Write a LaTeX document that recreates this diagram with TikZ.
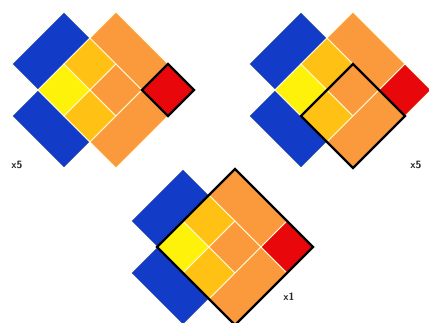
\documentclass[tikz,border=0pt]{standalone}
\usepackage{tikz}
\usetikzlibrary{positioning}
\definecolor{tileblue}{RGB}{18,60,200}
\definecolor{tileyellow}{RGB}{255,242,10}
\definecolor{tilegold}{RGB}{255,194,20}
\definecolor{tileorange}{RGB}{250,154,60}
\definecolor{tilered}{RGB}{232,8,12}
\definecolor{tileline}{RGB}{255,250,215}

\begin{document}
\begin{tikzpicture}[
    x=0.03cm, y=-0.03cm,
    font=\sffamily\bfseries\fontsize{9}{10}\selectfont,
    cell/.style={draw=tileline, line width=0.8pt},
    frame/.style={draw=black, line width=1.9pt, line join=miter},
    count/.style={inner sep=0pt, text=black!85}
]
    \useasboundingbox (0,0) rectangle (429,322);
    \clip (0,0) rectangle (429,322);

    % Three copies of the tiling, each with its frame (a1/b1/a2/b2)
    \foreach \ox/\oy/\fa/\fb/\fc/\fd in {38/90/2/2/3/3, 275/90/0/1/2/3, 157/247/0/0/3/3} {
        \begin{scope}[shift={(\ox,\oy)}, x={(0.78cm,0.78cm)}, y={(0.78cm,-0.78cm)}]
            % blue bars
            \fill[tileblue, cell] (0,-1) -- (2,-1) -- (2,0) -- (0,0) -- cycle;
            \fill[tileblue, cell] (-1,0) -- (0,0) -- (0,2) -- (-1,2) -- cycle;
            % small squares
            \fill[tileyellow, cell] (0,0) -- (1,0) -- (1,1) -- (0,1) -- cycle;
            \fill[tilegold, cell] (1,0) -- (2,0) -- (2,1) -- (1,1) -- cycle;
            \fill[tilegold, cell] (0,1) -- (1,1) -- (1,2) -- (0,2) -- cycle;
            \fill[tileorange, cell] (1,1) -- (2,1) -- (2,2) -- (1,2) -- cycle;
            % orange bars
            \fill[tileorange, cell] (2,0) -- (3,0) -- (3,2) -- (2,2) -- cycle;
            \fill[tileorange, cell] (0,2) -- (2,2) -- (2,3) -- (0,3) -- cycle;
            % corner square
            \fill[tilered, cell] (2,2) -- (3,2) -- (3,3) -- (2,3) -- cycle;
            % frame
            \draw[frame] (\fa,\fb) -- (\fc,\fb) -- (\fc,\fd) -- (\fa,\fd) -- cycle;
        \end{scope}
    }

    % Counts
    \node[count] (lab1) at (17,165) {x5};
    \node[count] (lab2) at (416,165) {x5};
    \node[count] (lab3) at (289,297) {x1};
\end{tikzpicture}
\end{document}
